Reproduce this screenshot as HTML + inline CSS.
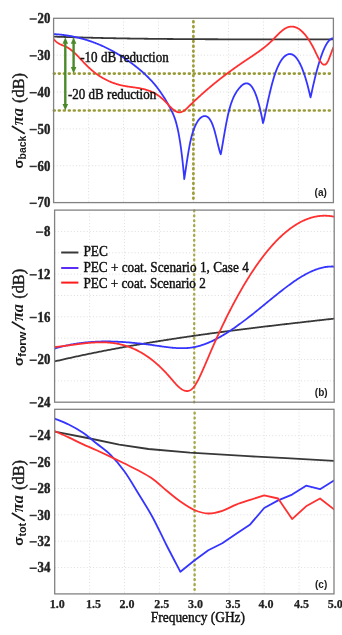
<!DOCTYPE html>
<html><head><meta charset="utf-8"><title>Figure</title>
<style>html,body{margin:0;padding:0;background:#fff;width:342px;height:635px;overflow:hidden}svg{display:block;filter:blur(0.35px)}</style>
</head><body>
<svg width="342" height="635" viewBox="0 0 342 635">
<style>
.g{stroke:#dadada;stroke-width:0.9;stroke-dasharray:1,2.2;fill:none}
.fr{stroke:#828282;stroke-width:1.3;fill:none}
.ln{fill:none;stroke-width:1.8;stroke-linejoin:round;stroke-linecap:round}
.ol{stroke:#9a9a38;stroke-width:2.6;stroke-dasharray:0.9,4.1;stroke-linecap:round;fill:none}
.olv{stroke:#9d9d3a;stroke-width:2.8;stroke-dasharray:0.7,4.2;stroke-linecap:round;fill:none}
.yt{font-family:"Liberation Serif",serif;font-weight:bold;font-size:14px;text-anchor:end;fill:#222;stroke:#222;stroke-width:0.45}
.xt{font-family:"Liberation Serif",serif;font-weight:bold;font-size:12px;text-anchor:middle;fill:#222;stroke:#222;stroke-width:0.25}
.lab{font-family:"Liberation Serif",serif;font-size:13px;fill:#111;stroke:#111;stroke-width:0.45}
.pl{font-family:"Liberation Sans",sans-serif;font-weight:bold;font-size:10px;fill:#222}
.yl{font-family:"Liberation Serif",serif;font-weight:bold;font-size:14px;fill:#1a1a1a}
</style>
<rect width="342" height="635" fill="#fff"/>
<defs><clipPath id="ca"><rect x="53.60" y="18.30" width="279.80" height="184.30"/></clipPath><clipPath id="cb"><rect x="54.60" y="210.10" width="279.60" height="192.10"/></clipPath><clipPath id="cc"><rect x="54.70" y="409.30" width="279.30" height="184.60"/></clipPath></defs>
<line x1="88.57" y1="18.30" x2="88.57" y2="202.60" class="g"/>
<line x1="123.55" y1="18.30" x2="123.55" y2="202.60" class="g"/>
<line x1="158.52" y1="18.30" x2="158.52" y2="202.60" class="g"/>
<line x1="193.50" y1="18.30" x2="193.50" y2="202.60" class="g"/>
<line x1="228.47" y1="18.30" x2="228.47" y2="202.60" class="g"/>
<line x1="263.45" y1="18.30" x2="263.45" y2="202.60" class="g"/>
<line x1="298.42" y1="18.30" x2="298.42" y2="202.60" class="g"/>
<line x1="53.60" y1="55.16" x2="333.40" y2="55.16" class="g"/>
<line x1="53.60" y1="92.02" x2="333.40" y2="92.02" class="g"/>
<line x1="53.60" y1="128.88" x2="333.40" y2="128.88" class="g"/>
<line x1="53.60" y1="165.74" x2="333.40" y2="165.74" class="g"/>
<line x1="89.55" y1="210.10" x2="89.55" y2="402.20" class="g"/>
<line x1="124.50" y1="210.10" x2="124.50" y2="402.20" class="g"/>
<line x1="159.45" y1="210.10" x2="159.45" y2="402.20" class="g"/>
<line x1="194.40" y1="210.10" x2="194.40" y2="402.20" class="g"/>
<line x1="229.35" y1="210.10" x2="229.35" y2="402.20" class="g"/>
<line x1="264.30" y1="210.10" x2="264.30" y2="402.20" class="g"/>
<line x1="299.25" y1="210.10" x2="299.25" y2="402.20" class="g"/>
<line x1="54.60" y1="231.44" x2="334.20" y2="231.44" class="g"/>
<line x1="54.60" y1="252.79" x2="334.20" y2="252.79" class="g"/>
<line x1="54.60" y1="274.13" x2="334.20" y2="274.13" class="g"/>
<line x1="54.60" y1="295.48" x2="334.20" y2="295.48" class="g"/>
<line x1="54.60" y1="316.82" x2="334.20" y2="316.82" class="g"/>
<line x1="54.60" y1="338.17" x2="334.20" y2="338.17" class="g"/>
<line x1="54.60" y1="359.51" x2="334.20" y2="359.51" class="g"/>
<line x1="54.60" y1="380.86" x2="334.20" y2="380.86" class="g"/>
<line x1="89.61" y1="409.30" x2="89.61" y2="593.90" class="g"/>
<line x1="124.53" y1="409.30" x2="124.53" y2="593.90" class="g"/>
<line x1="159.44" y1="409.30" x2="159.44" y2="593.90" class="g"/>
<line x1="194.35" y1="409.30" x2="194.35" y2="593.90" class="g"/>
<line x1="229.26" y1="409.30" x2="229.26" y2="593.90" class="g"/>
<line x1="264.18" y1="409.30" x2="264.18" y2="593.90" class="g"/>
<line x1="299.09" y1="409.30" x2="299.09" y2="593.90" class="g"/>
<line x1="54.70" y1="435.67" x2="334.00" y2="435.67" class="g"/>
<line x1="54.70" y1="462.04" x2="334.00" y2="462.04" class="g"/>
<line x1="54.70" y1="488.41" x2="334.00" y2="488.41" class="g"/>
<line x1="54.70" y1="514.79" x2="334.00" y2="514.79" class="g"/>
<line x1="54.70" y1="541.16" x2="334.00" y2="541.16" class="g"/>
<line x1="54.70" y1="567.53" x2="334.00" y2="567.53" class="g"/>
<line x1="53.60" y1="73.59" x2="333.40" y2="73.59" class="ol" style="stroke-dashoffset:4.75"/>
<line x1="53.60" y1="110.45" x2="333.40" y2="110.45" class="ol" style="stroke-dashoffset:4.75"/>
<line x1="193.40" y1="18.30" x2="193.40" y2="202.60" class="olv" style="stroke-dashoffset:1.75"/>
<line x1="194.20" y1="210.10" x2="194.20" y2="402.20" class="olv" style="stroke-dashoffset:4.45;stroke-width:2.4;stroke:#a8a848"/>
<line x1="194.60" y1="409.30" x2="194.60" y2="593.90" class="olv" style="stroke-dashoffset:1.45;stroke-width:2.5;stroke:#a8a848"/>
<path d="M53.60,36.62 L54.60,36.65 L55.60,36.69 L56.60,36.72 L57.60,36.76 L58.60,36.79 L59.60,36.82 L60.60,36.86 L61.60,36.89 L62.60,36.92 L63.60,36.96 L64.60,36.99 L65.60,37.02 L66.60,37.05 L67.60,37.08 L68.60,37.11 L69.60,37.14 L70.60,37.17 L71.60,37.20 L72.60,37.23 L73.60,37.26 L74.60,37.29 L75.60,37.32 L76.60,37.35 L77.60,37.38 L78.60,37.41 L79.60,37.44 L80.60,37.46 L81.60,37.49 L82.60,37.52 L83.60,37.54 L84.60,37.57 L85.60,37.60 L86.60,37.62 L87.60,37.65 L88.60,37.67 L89.60,37.70 L90.60,37.72 L91.60,37.75 L92.60,37.77 L93.60,37.80 L94.60,37.82 L95.60,37.85 L96.60,37.87 L97.60,37.89 L98.60,37.91 L99.60,37.94 L100.60,37.96 L101.60,37.98 L102.60,38.00 L103.60,38.03 L104.60,38.05 L105.60,38.07 L106.60,38.09 L107.60,38.11 L108.60,38.13 L109.60,38.15 L110.60,38.17 L111.60,38.19 L112.60,38.21 L113.60,38.23 L114.60,38.25 L115.60,38.27 L116.60,38.29 L117.60,38.30 L118.60,38.32 L119.60,38.34 L120.60,38.36 L121.60,38.38 L122.60,38.39 L123.60,38.41 L124.60,38.43 L125.60,38.44 L126.60,38.46 L127.60,38.48 L128.60,38.49 L129.60,38.51 L130.60,38.53 L131.60,38.54 L132.60,38.56 L133.60,38.57 L134.60,38.59 L135.60,38.60 L136.60,38.62 L137.60,38.63 L138.60,38.64 L139.60,38.66 L140.60,38.67 L141.60,38.69 L142.60,38.70 L143.60,38.71 L144.60,38.73 L145.60,38.74 L146.60,38.75 L147.60,38.76 L148.60,38.78 L149.60,38.79 L150.60,38.80 L151.60,38.81 L152.60,38.82 L153.60,38.83 L154.60,38.85 L155.60,38.86 L156.60,38.87 L157.60,38.88 L158.60,38.89 L159.60,38.90 L160.60,38.91 L161.60,38.92 L162.60,38.93 L163.60,38.94 L164.60,38.95 L165.60,38.96 L166.60,38.97 L167.60,38.98 L168.60,38.99 L169.60,38.99 L170.60,39.00 L171.60,39.01 L172.60,39.02 L173.60,39.03 L174.60,39.04 L175.60,39.05 L176.60,39.05 L177.60,39.06 L178.60,39.07 L179.60,39.08 L180.60,39.08 L181.60,39.09 L182.60,39.10 L183.60,39.10 L184.60,39.11 L185.60,39.12 L186.60,39.12 L187.60,39.13 L188.60,39.14 L189.60,39.14 L190.60,39.15 L191.60,39.16 L192.60,39.16 L193.60,39.17 L194.60,39.17 L195.60,39.18 L196.60,39.18 L197.60,39.19 L198.60,39.19 L199.60,39.20 L200.60,39.20 L201.60,39.21 L202.60,39.21 L203.60,39.22 L204.60,39.22 L205.60,39.23 L206.60,39.23 L207.60,39.24 L208.60,39.24 L209.60,39.24 L210.60,39.25 L211.60,39.25 L212.60,39.25 L213.60,39.26 L214.60,39.26 L215.60,39.27 L216.60,39.27 L217.60,39.27 L218.60,39.28 L219.60,39.28 L220.60,39.28 L221.60,39.28 L222.60,39.29 L223.60,39.29 L224.60,39.29 L225.60,39.30 L226.60,39.30 L227.60,39.30 L228.60,39.30 L229.60,39.31 L230.60,39.31 L231.60,39.31 L232.60,39.31 L233.60,39.32 L234.60,39.32 L235.60,39.32 L236.60,39.32 L237.60,39.32 L238.60,39.33 L239.60,39.33 L240.60,39.33 L241.60,39.33 L242.60,39.33 L243.60,39.33 L244.60,39.34 L245.60,39.34 L246.60,39.34 L247.60,39.34 L248.60,39.34 L249.60,39.34 L250.60,39.35 L251.60,39.35 L252.60,39.35 L253.60,39.35 L254.60,39.35 L255.60,39.35 L256.60,39.35 L257.60,39.35 L258.60,39.35 L259.60,39.36 L260.60,39.36 L261.60,39.36 L262.60,39.36 L263.60,39.36 L264.60,39.36 L265.60,39.36 L266.60,39.36 L267.60,39.36 L268.60,39.37 L269.60,39.37 L270.60,39.37 L271.60,39.37 L272.60,39.37 L273.60,39.37 L274.60,39.37 L275.60,39.37 L276.60,39.37 L277.60,39.37 L278.60,39.37 L279.60,39.38 L280.60,39.38 L281.60,39.38 L282.60,39.38 L283.60,39.38 L284.60,39.38 L285.60,39.38 L286.60,39.38 L287.60,39.38 L288.60,39.38 L289.60,39.39 L290.60,39.39 L291.60,39.39 L292.60,39.39 L293.60,39.39 L294.60,39.39 L295.60,39.39 L296.60,39.39 L297.60,39.39 L298.60,39.40 L299.60,39.40 L300.60,39.40 L301.60,39.40 L302.60,39.40 L303.60,39.40 L304.60,39.40 L305.60,39.41 L306.60,39.41 L307.60,39.41 L308.60,39.41 L309.60,39.41 L310.60,39.41 L311.60,39.42 L312.60,39.42 L313.60,39.42 L314.60,39.42 L315.60,39.42 L316.60,39.42 L317.60,39.43 L318.60,39.43 L319.60,39.43 L320.60,39.43 L321.60,39.44 L322.60,39.44 L323.60,39.44 L324.60,39.44 L325.60,39.45 L326.60,39.45 L327.60,39.45 L328.60,39.45 L329.60,39.46 L330.60,39.46 L331.60,39.46 L332.60,39.47 L333.40,39.47" class="ln" clip-path="url(#ca)" stroke="#383838"/>
<path d="M53.60,34.00 L54.10,34.11 L54.60,34.14 L55.10,34.17 L55.60,34.21 L56.10,34.24 L56.60,34.28 L57.10,34.32 L57.60,34.36 L58.10,34.40 L58.60,34.45 L59.10,34.50 L59.60,34.54 L60.10,34.59 L60.60,34.65 L61.10,34.70 L61.60,34.76 L62.10,34.81 L62.60,34.87 L63.10,34.93 L63.60,35.00 L64.10,35.06 L64.60,35.13 L65.10,35.20 L65.60,35.27 L66.10,35.34 L66.60,35.41 L67.10,35.49 L67.60,35.57 L68.10,35.65 L68.60,35.73 L69.10,35.81 L69.60,35.90 L70.10,35.99 L70.60,36.08 L71.10,36.17 L71.60,36.26 L72.10,36.36 L72.60,36.45 L73.10,36.55 L73.60,36.65 L74.10,36.76 L74.60,36.86 L75.10,36.97 L75.60,37.08 L76.10,37.19 L76.60,37.30 L77.10,37.41 L77.60,37.53 L78.10,37.65 L78.60,37.77 L79.10,37.89 L79.60,38.02 L80.10,38.15 L80.60,38.28 L81.10,38.41 L81.60,38.54 L82.10,38.67 L82.60,38.81 L83.10,38.95 L83.60,39.09 L84.10,39.24 L84.60,39.38 L85.10,39.53 L85.60,39.68 L86.10,39.83 L86.60,39.98 L87.10,40.14 L87.60,40.30 L88.10,40.46 L88.60,40.62 L89.10,40.79 L89.60,40.95 L90.10,41.12 L90.60,41.29 L91.10,41.47 L91.60,41.64 L92.10,41.82 L92.60,42.00 L93.10,42.18 L93.60,42.37 L94.10,42.55 L94.60,42.74 L95.10,42.93 L95.60,43.12 L96.10,43.32 L96.60,43.52 L97.10,43.72 L97.60,43.92 L98.10,44.12 L98.60,44.33 L99.10,44.54 L99.60,44.75 L100.10,44.96 L100.60,45.18 L101.10,45.40 L101.60,45.62 L102.10,45.84 L102.60,46.06 L103.10,46.29 L103.60,46.52 L104.10,46.75 L104.60,46.99 L105.10,47.22 L105.60,47.46 L106.10,47.70 L106.60,47.95 L107.10,48.19 L107.60,48.44 L108.10,48.69 L108.60,48.94 L109.10,49.20 L109.60,49.46 L110.10,49.72 L110.60,49.98 L111.10,50.24 L111.60,50.51 L112.10,50.78 L112.60,51.05 L113.10,51.33 L113.60,51.61 L114.10,51.89 L114.60,52.17 L115.10,52.45 L115.60,52.74 L116.10,53.03 L116.60,53.32 L117.10,53.62 L117.60,53.91 L118.10,54.21 L118.60,54.51 L119.10,54.82 L119.60,55.12 L120.10,55.43 L120.60,55.75 L121.10,56.06 L121.60,56.38 L122.10,56.70 L122.60,57.02 L123.10,57.34 L123.60,57.67 L124.10,58.00 L124.60,58.33 L125.10,58.67 L125.60,59.01 L126.10,59.35 L126.60,59.69 L127.10,60.04 L127.60,60.38 L128.10,60.73 L128.60,61.09 L129.10,61.44 L129.60,61.80 L130.10,62.16 L130.60,62.53 L131.10,62.89 L131.60,63.26 L132.10,63.63 L132.60,64.01 L133.10,64.39 L133.60,64.77 L134.10,65.15 L134.60,65.53 L135.10,65.92 L135.60,66.31 L136.10,66.71 L136.60,67.10 L137.10,67.50 L137.60,67.90 L138.10,68.31 L138.60,68.72 L139.10,69.13 L139.60,69.54 L140.10,69.96 L140.60,70.38 L141.10,70.80 L141.60,71.23 L142.10,71.66 L142.60,72.10 L143.10,72.54 L143.60,72.99 L144.10,73.44 L144.60,73.90 L145.10,74.36 L145.60,74.83 L146.10,75.30 L146.60,75.78 L147.10,76.26 L147.60,76.75 L148.10,77.25 L148.60,77.75 L149.10,78.26 L149.60,78.78 L150.10,79.30 L150.60,79.83 L151.10,80.37 L151.60,80.91 L152.10,81.46 L152.60,82.02 L153.10,82.59 L153.60,83.17 L154.10,83.75 L154.60,84.35 L155.10,84.95 L155.60,85.56 L156.10,86.18 L156.60,86.81 L157.10,87.45 L157.60,88.10 L158.10,88.76 L158.60,89.42 L159.10,90.10 L159.60,90.79 L160.10,91.49 L160.60,92.20 L161.10,92.92 L161.60,93.65 L162.10,94.39 L162.60,95.14 L163.10,95.91 L163.60,96.68 L164.10,97.47 L164.60,98.27 L165.10,99.08 L165.60,99.91 L166.10,100.75 L166.60,101.60 L167.10,102.46 L167.60,103.33 L168.10,104.22 L168.60,105.13 L169.10,106.04 L169.60,106.97 L170.10,107.91 L170.60,108.87 L171.10,109.84 L171.60,110.84 L172.10,111.86 L172.60,112.92 L173.10,114.04 L173.60,115.23 L174.10,116.50 L174.60,117.85 L175.10,119.31 L175.60,120.89 L176.10,122.59 L176.60,124.43 L177.10,126.42 L177.60,128.57 L178.10,130.89 L178.60,133.40 L179.10,136.11 L179.60,139.03 L180.10,142.18 L180.60,145.55 L181.10,149.17 L181.60,153.05 L182.10,157.20 L182.60,161.63 L183.10,166.36 L183.60,171.39 L184.10,176.73 L184.20,179.00 L184.70,176.23 L185.20,172.90 L185.70,169.56 L186.20,166.23 L186.70,162.93 L187.20,159.67 L187.70,156.49 L188.20,153.41 L188.70,150.44 L189.20,147.60 L189.70,144.93 L190.20,142.44 L190.70,140.14 L191.20,138.02 L191.70,136.07 L192.20,134.27 L192.70,132.62 L193.20,131.10 L193.70,129.69 L194.20,128.38 L194.70,127.16 L195.20,126.01 L195.70,124.94 L196.20,123.93 L196.70,122.99 L197.20,122.12 L197.70,121.31 L198.20,120.57 L198.70,119.89 L199.20,119.27 L199.70,118.71 L200.20,118.20 L200.70,117.76 L201.20,117.37 L201.70,117.03 L202.20,116.75 L202.70,116.51 L203.20,116.33 L203.70,116.20 L204.20,116.11 L204.70,116.07 L205.20,116.08 L205.70,116.15 L206.20,116.27 L206.70,116.46 L207.20,116.72 L207.70,117.04 L208.20,117.44 L208.70,117.92 L209.20,118.49 L209.70,119.14 L210.20,119.88 L210.70,120.71 L211.20,121.65 L211.70,122.69 L212.20,123.83 L212.70,125.09 L213.20,126.46 L213.70,127.95 L214.20,129.56 L214.70,131.30 L215.20,133.16 L215.70,135.12 L216.20,137.16 L216.70,139.24 L217.20,141.34 L217.70,143.44 L218.20,145.51 L218.70,147.52 L219.20,149.45 L219.70,151.26 L220.20,152.95 L220.70,154.20 L221.20,152.20 L221.70,149.35 L222.20,146.46 L222.70,143.54 L223.20,140.61 L223.70,137.69 L224.20,134.79 L224.70,131.92 L225.20,129.10 L225.70,126.35 L226.20,123.68 L226.70,121.10 L227.20,118.62 L227.70,116.28 L228.20,114.06 L228.70,111.97 L229.20,110.01 L229.70,108.16 L230.20,106.42 L230.70,104.79 L231.20,103.27 L231.70,101.84 L232.20,100.49 L232.70,99.24 L233.20,98.06 L233.70,96.96 L234.20,95.92 L234.70,94.95 L235.20,94.04 L235.70,93.18 L236.20,92.36 L236.70,91.59 L237.20,90.85 L237.70,90.15 L238.20,89.46 L238.70,88.81 L239.20,88.19 L239.70,87.59 L240.20,87.03 L240.70,86.50 L241.20,86.00 L241.70,85.54 L242.20,85.12 L242.70,84.74 L243.20,84.40 L243.70,84.11 L244.20,83.86 L244.70,83.65 L245.20,83.50 L245.70,83.39 L246.20,83.34 L246.70,83.34 L247.20,83.39 L247.70,83.50 L248.20,83.67 L248.70,83.90 L249.20,84.19 L249.70,84.55 L250.20,84.97 L250.70,85.46 L251.20,86.01 L251.70,86.64 L252.20,87.33 L252.70,88.10 L253.20,88.95 L253.70,89.87 L254.20,90.87 L254.70,91.95 L255.20,93.11 L255.70,94.35 L256.20,95.68 L256.70,97.10 L257.20,98.61 L257.70,100.20 L258.20,101.89 L258.70,103.67 L259.20,105.54 L259.70,107.51 L260.20,109.58 L260.70,111.75 L261.20,114.03 L261.70,116.40 L262.20,118.88 L262.70,121.47 L263.00,123.00 L263.50,121.54 L264.00,119.26 L264.50,116.96 L265.00,114.65 L265.50,112.32 L266.00,110.00 L266.50,107.68 L267.00,105.37 L267.50,103.07 L268.00,100.80 L268.50,98.56 L269.00,96.35 L269.50,94.18 L270.00,92.06 L270.50,89.98 L271.00,87.96 L271.50,85.99 L272.00,84.08 L272.50,82.24 L273.00,80.46 L273.50,78.75 L274.00,77.11 L274.50,75.54 L275.00,74.04 L275.50,72.60 L276.00,71.23 L276.50,69.92 L277.00,68.67 L277.50,67.48 L278.00,66.35 L278.50,65.27 L279.00,64.26 L279.50,63.30 L280.00,62.39 L280.50,61.54 L281.00,60.74 L281.50,59.99 L282.00,59.29 L282.50,58.64 L283.00,58.03 L283.50,57.47 L284.00,56.96 L284.50,56.48 L285.00,56.06 L285.50,55.67 L286.00,55.32 L286.50,55.01 L287.00,54.74 L287.50,54.52 L288.00,54.33 L288.50,54.19 L289.00,54.09 L289.50,54.03 L290.00,54.02 L290.50,54.05 L291.00,54.13 L291.50,54.25 L292.00,54.42 L292.50,54.63 L293.00,54.89 L293.50,55.20 L294.00,55.56 L294.50,55.96 L295.00,56.41 L295.50,56.92 L296.00,57.47 L296.50,58.07 L297.00,58.72 L297.50,59.43 L298.00,60.19 L298.50,60.99 L299.00,61.86 L299.50,62.77 L300.00,63.74 L300.50,64.76 L301.00,65.84 L301.50,66.98 L302.00,68.17 L302.50,69.41 L303.00,70.72 L303.50,72.08 L304.00,73.50 L304.50,74.97 L305.00,76.51 L305.50,78.10 L306.00,79.76 L306.50,81.48 L307.00,83.25 L307.50,85.09 L308.00,86.99 L308.50,88.95 L309.00,90.98 L309.50,93.07 L310.00,95.22 L310.50,97.40 L311.00,95.57 L311.50,93.19 L312.00,90.86 L312.50,88.57 L313.00,86.32 L313.50,84.12 L314.00,81.97 L314.50,79.86 L315.00,77.79 L315.50,75.77 L316.00,73.80 L316.50,71.88 L317.00,70.00 L317.50,68.17 L318.00,66.40 L318.50,64.67 L319.00,62.99 L319.50,61.36 L320.00,59.78 L320.50,58.25 L321.00,56.78 L321.50,55.36 L322.00,53.99 L322.50,52.67 L323.00,51.41 L323.50,50.20 L324.00,49.05 L324.50,47.95 L325.00,46.91 L325.50,45.92 L326.00,45.00 L326.50,44.13 L327.00,43.31 L327.50,42.56 L328.00,41.86 L328.50,41.23 L329.00,40.65 L329.50,40.14 L330.00,39.68 L330.50,39.29 L331.00,38.96 L331.50,38.69 L332.00,38.49 L332.50,38.35 L333.00,38.27 L333.40,38.00" class="ln" clip-path="url(#ca)" stroke="#3535ff"/>
<path d="M53.60,39.05 L54.10,39.64 L54.60,40.18 L55.10,40.69 L55.60,41.17 L56.10,41.61 L56.60,42.02 L57.10,42.40 L57.60,42.76 L58.10,43.09 L58.60,43.40 L59.10,43.68 L59.60,43.95 L60.10,44.21 L60.60,44.45 L61.10,44.68 L61.60,44.90 L62.10,45.11 L62.60,45.32 L63.10,45.52 L63.60,45.73 L64.10,45.93 L64.60,46.14 L65.10,46.35 L65.60,46.57 L66.10,46.80 L66.60,47.05 L67.10,47.30 L67.60,47.58 L68.10,47.87 L68.60,48.18 L69.10,48.50 L69.60,48.84 L70.10,49.20 L70.60,49.57 L71.10,49.96 L71.60,50.35 L72.10,50.77 L72.60,51.19 L73.10,51.62 L73.60,52.07 L74.10,52.53 L74.60,52.99 L75.10,53.47 L75.60,53.95 L76.10,54.44 L76.60,54.94 L77.10,55.44 L77.60,55.95 L78.10,56.46 L78.60,56.98 L79.10,57.50 L79.60,58.03 L80.10,58.56 L80.60,59.09 L81.10,59.62 L81.60,60.15 L82.10,60.69 L82.60,61.22 L83.10,61.75 L83.60,62.28 L84.10,62.80 L84.60,63.32 L85.10,63.84 L85.60,64.36 L86.10,64.87 L86.60,65.37 L87.10,65.87 L87.60,66.36 L88.10,66.84 L88.60,67.31 L89.10,67.78 L89.60,68.24 L90.10,68.70 L90.60,69.14 L91.10,69.58 L91.60,70.02 L92.10,70.44 L92.60,70.86 L93.10,71.28 L93.60,71.68 L94.10,72.08 L94.60,72.48 L95.10,72.86 L95.60,73.24 L96.10,73.62 L96.60,73.98 L97.10,74.34 L97.60,74.70 L98.10,75.05 L98.60,75.39 L99.10,75.72 L99.60,76.05 L100.10,76.38 L100.60,76.70 L101.10,77.01 L101.60,77.32 L102.10,77.62 L102.60,77.91 L103.10,78.20 L103.60,78.48 L104.10,78.76 L104.60,79.03 L105.10,79.30 L105.60,79.56 L106.10,79.82 L106.60,80.07 L107.10,80.31 L107.60,80.55 L108.10,80.79 L108.60,81.02 L109.10,81.24 L109.60,81.46 L110.10,81.68 L110.60,81.89 L111.10,82.09 L111.60,82.29 L112.10,82.49 L112.60,82.68 L113.10,82.87 L113.60,83.05 L114.10,83.22 L114.60,83.40 L115.10,83.57 L115.60,83.73 L116.10,83.89 L116.60,84.04 L117.10,84.19 L117.60,84.34 L118.10,84.48 L118.60,84.62 L119.10,84.76 L119.60,84.89 L120.10,85.01 L120.60,85.14 L121.10,85.26 L121.60,85.37 L122.10,85.48 L122.60,85.59 L123.10,85.70 L123.60,85.80 L124.10,85.89 L124.60,85.99 L125.10,86.08 L125.60,86.17 L126.10,86.25 L126.60,86.33 L127.10,86.41 L127.60,86.49 L128.10,86.57 L128.60,86.64 L129.10,86.72 L129.60,86.79 L130.10,86.86 L130.60,86.93 L131.10,87.00 L131.60,87.06 L132.10,87.13 L132.60,87.20 L133.10,87.27 L133.60,87.34 L134.10,87.41 L134.60,87.48 L135.10,87.55 L135.60,87.62 L136.10,87.69 L136.60,87.77 L137.10,87.85 L137.60,87.92 L138.10,88.00 L138.60,88.09 L139.10,88.17 L139.60,88.26 L140.10,88.36 L140.60,88.45 L141.10,88.55 L141.60,88.65 L142.10,88.76 L142.60,88.87 L143.10,88.98 L143.60,89.10 L144.10,89.22 L144.60,89.35 L145.10,89.49 L145.60,89.63 L146.10,89.77 L146.60,89.92 L147.10,90.08 L147.60,90.24 L148.10,90.41 L148.60,90.58 L149.10,90.76 L149.60,90.95 L150.10,91.15 L150.60,91.35 L151.10,91.56 L151.60,91.78 L152.10,92.01 L152.60,92.24 L153.10,92.49 L153.60,92.74 L154.10,93.00 L154.60,93.27 L155.10,93.55 L155.60,93.84 L156.10,94.14 L156.60,94.44 L157.10,94.76 L157.60,95.09 L158.10,95.43 L158.60,95.78 L159.10,96.14 L159.60,96.51 L160.10,96.89 L160.60,97.29 L161.10,97.69 L161.60,98.11 L162.10,98.54 L162.60,98.98 L163.10,99.44 L163.60,99.91 L164.10,100.39 L164.60,100.88 L165.10,101.38 L165.60,101.90 L166.10,102.41 L166.60,102.94 L167.10,103.47 L167.60,103.99 L168.10,104.52 L168.60,105.05 L169.10,105.57 L169.60,106.09 L170.10,106.59 L170.60,107.09 L171.10,107.58 L171.60,108.05 L172.10,108.51 L172.60,108.95 L173.10,109.37 L173.60,109.78 L174.10,110.16 L174.60,110.51 L175.10,110.84 L175.60,111.14 L176.10,111.41 L176.60,111.65 L177.10,111.86 L177.60,112.03 L178.10,112.16 L178.60,112.26 L179.10,112.31 L179.60,112.32 L180.10,112.29 L180.60,112.21 L181.10,112.09 L181.60,111.93 L182.10,111.73 L182.60,111.49 L183.10,111.22 L183.60,110.92 L184.10,110.59 L184.60,110.23 L185.10,109.85 L185.60,109.45 L186.10,109.03 L186.60,108.59 L187.10,108.13 L187.60,107.67 L188.10,107.19 L188.60,106.71 L189.10,106.22 L189.60,105.73 L190.10,105.24 L190.60,104.75 L191.10,104.26 L191.60,103.77 L192.10,103.29 L192.60,102.81 L193.10,102.33 L193.60,101.85 L194.10,101.37 L194.60,100.90 L195.10,100.42 L195.60,99.95 L196.10,99.48 L196.60,99.02 L197.10,98.55 L197.60,98.09 L198.10,97.62 L198.60,97.16 L199.10,96.71 L199.60,96.25 L200.10,95.79 L200.60,95.34 L201.10,94.89 L201.60,94.44 L202.10,93.99 L202.60,93.54 L203.10,93.10 L203.60,92.66 L204.10,92.22 L204.60,91.78 L205.10,91.34 L205.60,90.90 L206.10,90.47 L206.60,90.03 L207.10,89.60 L207.60,89.17 L208.10,88.75 L208.60,88.32 L209.10,87.89 L209.60,87.47 L210.10,87.05 L210.60,86.63 L211.10,86.21 L211.60,85.79 L212.10,85.38 L212.60,84.96 L213.10,84.55 L213.60,84.14 L214.10,83.73 L214.60,83.32 L215.10,82.91 L215.60,82.51 L216.10,82.10 L216.60,81.70 L217.10,81.30 L217.60,80.90 L218.10,80.50 L218.60,80.11 L219.10,79.71 L219.60,79.32 L220.10,78.92 L220.60,78.53 L221.10,78.14 L221.60,77.75 L222.10,77.37 L222.60,76.98 L223.10,76.59 L223.60,76.21 L224.10,75.83 L224.60,75.45 L225.10,75.07 L225.60,74.69 L226.10,74.31 L226.60,73.94 L227.10,73.56 L227.60,73.19 L228.10,72.82 L228.60,72.45 L229.10,72.08 L229.60,71.71 L230.10,71.34 L230.60,70.97 L231.10,70.61 L231.60,70.24 L232.10,69.88 L232.60,69.52 L233.10,69.16 L233.60,68.80 L234.10,68.44 L234.60,68.08 L235.10,67.72 L235.60,67.37 L236.10,67.01 L236.60,66.66 L237.10,66.31 L237.60,65.96 L238.10,65.61 L238.60,65.26 L239.10,64.91 L239.60,64.56 L240.10,64.22 L240.60,63.87 L241.10,63.53 L241.60,63.18 L242.10,62.84 L242.60,62.50 L243.10,62.16 L243.60,61.82 L244.10,61.48 L244.60,61.14 L245.10,60.80 L245.60,60.47 L246.10,60.13 L246.60,59.80 L247.10,59.46 L247.60,59.13 L248.10,58.80 L248.60,58.46 L249.10,58.13 L249.60,57.80 L250.10,57.47 L250.60,57.14 L251.10,56.80 L251.60,56.47 L252.10,56.14 L252.60,55.80 L253.10,55.47 L253.60,55.13 L254.10,54.79 L254.60,54.45 L255.10,54.11 L255.60,53.77 L256.10,53.43 L256.60,53.08 L257.10,52.73 L257.60,52.38 L258.10,52.03 L258.60,51.67 L259.10,51.31 L259.60,50.95 L260.10,50.59 L260.60,50.22 L261.10,49.85 L261.60,49.47 L262.10,49.09 L262.60,48.71 L263.10,48.33 L263.60,47.93 L264.10,47.54 L264.60,47.14 L265.10,46.74 L265.60,46.33 L266.10,45.91 L266.60,45.49 L267.10,45.07 L267.60,44.64 L268.10,44.21 L268.60,43.76 L269.10,43.32 L269.60,42.87 L270.10,42.41 L270.60,41.94 L271.10,41.47 L271.60,40.99 L272.10,40.51 L272.60,40.02 L273.10,39.52 L273.60,39.01 L274.10,38.50 L274.60,37.99 L275.10,37.48 L275.60,36.96 L276.10,36.45 L276.60,35.93 L277.10,35.42 L277.60,34.92 L278.10,34.41 L278.60,33.92 L279.10,33.43 L279.60,32.95 L280.10,32.47 L280.60,32.01 L281.10,31.56 L281.60,31.13 L282.10,30.71 L282.60,30.30 L283.10,29.91 L283.60,29.54 L284.10,29.18 L284.60,28.85 L285.10,28.54 L285.60,28.25 L286.10,27.98 L286.60,27.74 L287.10,27.51 L287.60,27.32 L288.10,27.14 L288.60,26.99 L289.10,26.86 L289.60,26.76 L290.10,26.67 L290.60,26.62 L291.10,26.58 L291.60,26.57 L292.10,26.58 L292.60,26.61 L293.10,26.66 L293.60,26.74 L294.10,26.84 L294.60,26.96 L295.10,27.11 L295.60,27.28 L296.10,27.47 L296.60,27.68 L297.10,27.92 L297.60,28.18 L298.10,28.46 L298.60,28.77 L299.10,29.09 L299.60,29.44 L300.10,29.81 L300.60,30.21 L301.10,30.62 L301.60,31.06 L302.10,31.52 L302.60,32.01 L303.10,32.51 L303.60,33.04 L304.10,33.59 L304.60,34.16 L305.10,34.75 L305.60,35.37 L306.10,36.01 L306.60,36.67 L307.10,37.35 L307.60,38.05 L308.10,38.78 L308.60,39.53 L309.10,40.30 L309.60,41.09 L310.10,41.90 L310.60,42.74 L311.10,43.60 L311.60,44.47 L312.10,45.38 L312.60,46.30 L313.10,47.24 L313.60,48.21 L314.10,49.19 L314.60,50.20 L315.10,51.23 L315.60,52.27 L316.10,53.32 L316.60,54.36 L317.10,55.39 L317.60,56.41 L318.10,57.40 L318.60,58.36 L319.10,59.29 L319.60,60.16 L320.10,60.98 L320.60,61.74 L321.10,62.43 L321.60,63.05 L322.10,63.58 L322.60,64.02 L323.10,64.36 L323.60,64.60 L324.10,64.72 L324.60,64.72 L325.10,64.60 L325.60,64.34 L326.10,63.93 L326.60,63.38 L327.10,62.67 L327.60,61.81 L328.10,60.82 L328.60,59.72 L329.10,58.53 L329.60,57.28 L330.10,55.97 L330.60,54.63 L331.10,53.28 L331.60,51.94 L332.10,50.62 L332.60,49.35 L333.10,48.16 L333.40,47.48" class="ln" clip-path="url(#ca)" stroke="#ff3030"/>
<line x1="65.3" y1="41.3" x2="65.3" y2="106.44999999999999" stroke="#4b8a2a" stroke-width="2.4"/><path d="M65.3,37.3 L62.5,43.8 L68.1,43.8 Z" fill="#4b8a2a"/><path d="M65.3,110.44999999999999 L62.5,103.94999999999999 L68.1,103.94999999999999 Z" fill="#4b8a2a"/>
<line x1="73.6" y1="41.3" x2="73.6" y2="69.58999999999999" stroke="#4b8a2a" stroke-width="2.4"/><path d="M73.6,37.3 L70.8,43.8 L76.39999999999999,43.8 Z" fill="#4b8a2a"/><path d="M73.6,73.58999999999999 L70.8,67.08999999999999 L76.39999999999999,67.08999999999999 Z" fill="#4b8a2a"/>
<text x="80.2" y="61.6" class="lab" style="font-size:14.8px" textLength="88.6" lengthAdjust="spacingAndGlyphs">-10 dB reduction</text>
<text x="68.0" y="98.6" class="lab" style="font-size:14.8px" textLength="88.2" lengthAdjust="spacingAndGlyphs">-20 dB reduction</text>
<path d="M54.60,361.44 L55.60,361.21 L56.60,360.97 L57.60,360.74 L58.60,360.51 L59.60,360.28 L60.60,360.05 L61.60,359.82 L62.60,359.59 L63.60,359.36 L64.60,359.14 L65.60,358.91 L66.60,358.69 L67.60,358.46 L68.60,358.24 L69.60,358.02 L70.60,357.80 L71.60,357.58 L72.60,357.36 L73.60,357.14 L74.60,356.92 L75.60,356.70 L76.60,356.49 L77.60,356.27 L78.60,356.05 L79.60,355.84 L80.60,355.63 L81.60,355.41 L82.60,355.20 L83.60,354.99 L84.60,354.78 L85.60,354.57 L86.60,354.36 L87.60,354.16 L88.60,353.95 L89.60,353.74 L90.60,353.54 L91.60,353.33 L92.60,353.13 L93.60,352.92 L94.60,352.72 L95.60,352.52 L96.60,352.32 L97.60,352.12 L98.60,351.92 L99.60,351.72 L100.60,351.52 L101.60,351.32 L102.60,351.13 L103.60,350.93 L104.60,350.74 L105.60,350.54 L106.60,350.35 L107.60,350.15 L108.60,349.96 L109.60,349.77 L110.60,349.58 L111.60,349.39 L112.60,349.20 L113.60,349.01 L114.60,348.82 L115.60,348.63 L116.60,348.45 L117.60,348.26 L118.60,348.08 L119.60,347.89 L120.60,347.71 L121.60,347.52 L122.60,347.34 L123.60,347.16 L124.60,346.98 L125.60,346.80 L126.60,346.62 L127.60,346.44 L128.60,346.26 L129.60,346.08 L130.60,345.90 L131.60,345.72 L132.60,345.55 L133.60,345.37 L134.60,345.20 L135.60,345.02 L136.60,344.85 L137.60,344.67 L138.60,344.50 L139.60,344.33 L140.60,344.16 L141.60,343.99 L142.60,343.82 L143.60,343.65 L144.60,343.48 L145.60,343.31 L146.60,343.14 L147.60,342.97 L148.60,342.81 L149.60,342.64 L150.60,342.48 L151.60,342.31 L152.60,342.15 L153.60,341.98 L154.60,341.82 L155.60,341.66 L156.60,341.49 L157.60,341.33 L158.60,341.17 L159.60,341.01 L160.60,340.85 L161.60,340.69 L162.60,340.53 L163.60,340.37 L164.60,340.22 L165.60,340.06 L166.60,339.90 L167.60,339.75 L168.60,339.59 L169.60,339.44 L170.60,339.28 L171.60,339.13 L172.60,338.97 L173.60,338.82 L174.60,338.67 L175.60,338.52 L176.60,338.36 L177.60,338.21 L178.60,338.06 L179.60,337.91 L180.60,337.76 L181.60,337.61 L182.60,337.46 L183.60,337.32 L184.60,337.17 L185.60,337.02 L186.60,336.87 L187.60,336.73 L188.60,336.58 L189.60,336.44 L190.60,336.29 L191.60,336.15 L192.60,336.00 L193.60,335.86 L194.60,335.71 L195.60,335.57 L196.60,335.43 L197.60,335.29 L198.60,335.15 L199.60,335.01 L200.60,334.86 L201.60,334.72 L202.60,334.58 L203.60,334.44 L204.60,334.31 L205.60,334.17 L206.60,334.03 L207.60,333.89 L208.60,333.75 L209.60,333.62 L210.60,333.48 L211.60,333.34 L212.60,333.21 L213.60,333.07 L214.60,332.94 L215.60,332.80 L216.60,332.67 L217.60,332.53 L218.60,332.40 L219.60,332.27 L220.60,332.14 L221.60,332.00 L222.60,331.87 L223.60,331.74 L224.60,331.61 L225.60,331.48 L226.60,331.35 L227.60,331.21 L228.60,331.08 L229.60,330.96 L230.60,330.83 L231.60,330.70 L232.60,330.57 L233.60,330.44 L234.60,330.31 L235.60,330.18 L236.60,330.06 L237.60,329.93 L238.60,329.80 L239.60,329.68 L240.60,329.55 L241.60,329.42 L242.60,329.30 L243.60,329.17 L244.60,329.05 L245.60,328.92 L246.60,328.80 L247.60,328.67 L248.60,328.55 L249.60,328.43 L250.60,328.30 L251.60,328.18 L252.60,328.06 L253.60,327.93 L254.60,327.81 L255.60,327.69 L256.60,327.57 L257.60,327.45 L258.60,327.32 L259.60,327.20 L260.60,327.08 L261.60,326.96 L262.60,326.84 L263.60,326.72 L264.60,326.60 L265.60,326.48 L266.60,326.36 L267.60,326.24 L268.60,326.12 L269.60,326.00 L270.60,325.89 L271.60,325.77 L272.60,325.65 L273.60,325.53 L274.60,325.41 L275.60,325.29 L276.60,325.18 L277.60,325.06 L278.60,324.94 L279.60,324.83 L280.60,324.71 L281.60,324.59 L282.60,324.48 L283.60,324.36 L284.60,324.24 L285.60,324.13 L286.60,324.01 L287.60,323.90 L288.60,323.78 L289.60,323.67 L290.60,323.55 L291.60,323.44 L292.60,323.32 L293.60,323.21 L294.60,323.09 L295.60,322.98 L296.60,322.86 L297.60,322.75 L298.60,322.63 L299.60,322.52 L300.60,322.41 L301.60,322.29 L302.60,322.18 L303.60,322.06 L304.60,321.95 L305.60,321.84 L306.60,321.72 L307.60,321.61 L308.60,321.50 L309.60,321.39 L310.60,321.27 L311.60,321.16 L312.60,321.05 L313.60,320.93 L314.60,320.82 L315.60,320.71 L316.60,320.60 L317.60,320.48 L318.60,320.37 L319.60,320.26 L320.60,320.15 L321.60,320.04 L322.60,319.92 L323.60,319.81 L324.60,319.70 L325.60,319.59 L326.60,319.47 L327.60,319.36 L328.60,319.25 L329.60,319.14 L330.60,319.03 L331.60,318.92 L332.60,318.80 L333.60,318.69 L334.20,318.62" class="ln" clip-path="url(#cb)" stroke="#383838"/>
<path d="M54.60,348.57 L55.60,348.27 L56.60,347.98 L57.60,347.70 L58.60,347.43 L59.60,347.16 L60.60,346.90 L61.60,346.64 L62.60,346.40 L63.60,346.16 L64.60,345.92 L65.60,345.69 L66.60,345.47 L67.60,345.26 L68.60,345.05 L69.60,344.85 L70.60,344.66 L71.60,344.47 L72.60,344.29 L73.60,344.11 L74.60,343.95 L75.60,343.78 L76.60,343.63 L77.60,343.48 L78.60,343.33 L79.60,343.19 L80.60,343.06 L81.60,342.93 L82.60,342.81 L83.60,342.70 L84.60,342.59 L85.60,342.48 L86.60,342.38 L87.60,342.29 L88.60,342.20 L89.60,342.12 L90.60,342.04 L91.60,341.97 L92.60,341.90 L93.60,341.84 L94.60,341.78 L95.60,341.73 L96.60,341.68 L97.60,341.64 L98.60,341.60 L99.60,341.57 L100.60,341.54 L101.60,341.52 L102.60,341.50 L103.60,341.49 L104.60,341.48 L105.60,341.47 L106.60,341.47 L107.60,341.48 L108.60,341.48 L109.60,341.49 L110.60,341.51 L111.60,341.53 L112.60,341.55 L113.60,341.58 L114.60,341.61 L115.60,341.65 L116.60,341.69 L117.60,341.73 L118.60,341.78 L119.60,341.83 L120.60,341.88 L121.60,341.94 L122.60,342.00 L123.60,342.06 L124.60,342.13 L125.60,342.20 L126.60,342.28 L127.60,342.35 L128.60,342.43 L129.60,342.52 L130.60,342.60 L131.60,342.69 L132.60,342.78 L133.60,342.88 L134.60,342.97 L135.60,343.07 L136.60,343.18 L137.60,343.28 L138.60,343.39 L139.60,343.50 L140.60,343.61 L141.60,343.72 L142.60,343.84 L143.60,343.96 L144.60,344.08 L145.60,344.20 L146.60,344.33 L147.60,344.46 L148.60,344.59 L149.60,344.72 L150.60,344.85 L151.60,344.98 L152.60,345.12 L153.60,345.26 L154.60,345.40 L155.60,345.54 L156.60,345.68 L157.60,345.82 L158.60,345.96 L159.60,346.11 L160.60,346.25 L161.60,346.39 L162.60,346.53 L163.60,346.67 L164.60,346.81 L165.60,346.94 L166.60,347.07 L167.60,347.19 L168.60,347.31 L169.60,347.42 L170.60,347.53 L171.60,347.64 L172.60,347.73 L173.60,347.82 L174.60,347.90 L175.60,347.97 L176.60,348.03 L177.60,348.09 L178.60,348.13 L179.60,348.16 L180.60,348.18 L181.60,348.19 L182.60,348.19 L183.60,348.17 L184.60,348.15 L185.60,348.11 L186.60,348.05 L187.60,347.98 L188.60,347.89 L189.60,347.79 L190.60,347.67 L191.60,347.54 L192.60,347.39 L193.60,347.22 L194.60,347.03 L195.60,346.82 L196.60,346.60 L197.60,346.36 L198.60,346.10 L199.60,345.82 L200.60,345.53 L201.60,345.22 L202.60,344.90 L203.60,344.56 L204.60,344.21 L205.60,343.83 L206.60,343.45 L207.60,343.05 L208.60,342.63 L209.60,342.20 L210.60,341.76 L211.60,341.31 L212.60,340.84 L213.60,340.35 L214.60,339.86 L215.60,339.35 L216.60,338.83 L217.60,338.30 L218.60,337.75 L219.60,337.20 L220.60,336.63 L221.60,336.05 L222.60,335.46 L223.60,334.86 L224.60,334.26 L225.60,333.64 L226.60,333.01 L227.60,332.37 L228.60,331.73 L229.60,331.07 L230.60,330.41 L231.60,329.73 L232.60,329.06 L233.60,328.37 L234.60,327.67 L235.60,326.97 L236.60,326.26 L237.60,325.55 L238.60,324.83 L239.60,324.10 L240.60,323.37 L241.60,322.63 L242.60,321.88 L243.60,321.14 L244.60,320.38 L245.60,319.62 L246.60,318.86 L247.60,318.09 L248.60,317.31 L249.60,316.53 L250.60,315.75 L251.60,314.96 L252.60,314.17 L253.60,313.38 L254.60,312.58 L255.60,311.77 L256.60,310.97 L257.60,310.16 L258.60,309.35 L259.60,308.54 L260.60,307.72 L261.60,306.90 L262.60,306.09 L263.60,305.27 L264.60,304.45 L265.60,303.63 L266.60,302.81 L267.60,301.99 L268.60,301.17 L269.60,300.35 L270.60,299.54 L271.60,298.72 L272.60,297.91 L273.60,297.10 L274.60,296.29 L275.60,295.48 L276.60,294.68 L277.60,293.88 L278.60,293.08 L279.60,292.29 L280.60,291.50 L281.60,290.72 L282.60,289.94 L283.60,289.16 L284.60,288.39 L285.60,287.63 L286.60,286.88 L287.60,286.13 L288.60,285.38 L289.60,284.65 L290.60,283.92 L291.60,283.21 L292.60,282.50 L293.60,281.80 L294.60,281.11 L295.60,280.43 L296.60,279.77 L297.60,279.11 L298.60,278.46 L299.60,277.83 L300.60,277.21 L301.60,276.60 L302.60,276.01 L303.60,275.43 L304.60,274.86 L305.60,274.31 L306.60,273.78 L307.60,273.25 L308.60,272.75 L309.60,272.26 L310.60,271.79 L311.60,271.33 L312.60,270.90 L313.60,270.48 L314.60,270.08 L315.60,269.69 L316.60,269.33 L317.60,268.99 L318.60,268.67 L319.60,268.36 L320.60,268.08 L321.60,267.82 L322.60,267.59 L323.60,267.37 L324.60,267.18 L325.60,267.01 L326.60,266.86 L327.60,266.74 L328.60,266.65 L329.60,266.57 L330.60,266.53 L331.60,266.50 L332.60,266.51 L333.60,266.54 L334.20,266.57" class="ln" clip-path="url(#cb)" stroke="#3535ff"/>
<path d="M54.60,347.03 L55.10,346.99 L55.60,346.94 L56.10,346.89 L56.60,346.84 L57.10,346.79 L57.60,346.74 L58.10,346.69 L58.60,346.63 L59.10,346.58 L59.60,346.52 L60.10,346.47 L60.60,346.41 L61.10,346.35 L61.60,346.29 L62.10,346.23 L62.60,346.17 L63.10,346.11 L63.60,346.04 L64.10,345.98 L64.60,345.92 L65.10,345.85 L65.60,345.79 L66.10,345.72 L66.60,345.66 L67.10,345.59 L67.60,345.53 L68.10,345.46 L68.60,345.39 L69.10,345.32 L69.60,345.26 L70.10,345.19 L70.60,345.12 L71.10,345.05 L71.60,344.98 L72.10,344.92 L72.60,344.85 L73.10,344.78 L73.60,344.71 L74.10,344.65 L74.60,344.58 L75.10,344.51 L75.60,344.44 L76.10,344.38 L76.60,344.31 L77.10,344.24 L77.60,344.18 L78.10,344.11 L78.60,344.05 L79.10,343.99 L79.60,343.92 L80.10,343.86 L80.60,343.80 L81.10,343.74 L81.60,343.67 L82.10,343.61 L82.60,343.56 L83.10,343.50 L83.60,343.44 L84.10,343.38 L84.60,343.33 L85.10,343.27 L85.60,343.22 L86.10,343.17 L86.60,343.12 L87.10,343.07 L87.60,343.02 L88.10,342.97 L88.60,342.92 L89.10,342.88 L89.60,342.83 L90.10,342.79 L90.60,342.75 L91.10,342.71 L91.60,342.67 L92.10,342.64 L92.60,342.60 L93.10,342.57 L93.60,342.54 L94.10,342.51 L94.60,342.48 L95.10,342.45 L95.60,342.43 L96.10,342.41 L96.60,342.38 L97.10,342.37 L97.60,342.35 L98.10,342.33 L98.60,342.32 L99.10,342.31 L99.60,342.30 L100.10,342.30 L100.60,342.29 L101.10,342.29 L101.60,342.29 L102.10,342.29 L102.60,342.30 L103.10,342.31 L103.60,342.32 L104.10,342.33 L104.60,342.34 L105.10,342.36 L105.60,342.38 L106.10,342.41 L106.60,342.43 L107.10,342.46 L107.60,342.49 L108.10,342.52 L108.60,342.56 L109.10,342.60 L109.60,342.64 L110.10,342.69 L110.60,342.74 L111.10,342.79 L111.60,342.84 L112.10,342.90 L112.60,342.96 L113.10,343.03 L113.60,343.09 L114.10,343.16 L114.60,343.24 L115.10,343.32 L115.60,343.40 L116.10,343.48 L116.60,343.57 L117.10,343.66 L117.60,343.75 L118.10,343.85 L118.60,343.95 L119.10,344.06 L119.60,344.17 L120.10,344.28 L120.60,344.40 L121.10,344.52 L121.60,344.64 L122.10,344.77 L122.60,344.90 L123.10,345.03 L123.60,345.17 L124.10,345.31 L124.60,345.46 L125.10,345.61 L125.60,345.76 L126.10,345.92 L126.60,346.08 L127.10,346.25 L127.60,346.42 L128.10,346.59 L128.60,346.77 L129.10,346.95 L129.60,347.13 L130.10,347.32 L130.60,347.52 L131.10,347.71 L131.60,347.91 L132.10,348.12 L132.60,348.33 L133.10,348.54 L133.60,348.76 L134.10,348.99 L134.60,349.21 L135.10,349.44 L135.60,349.68 L136.10,349.92 L136.60,350.16 L137.10,350.41 L137.60,350.66 L138.10,350.92 L138.60,351.18 L139.10,351.45 L139.60,351.72 L140.10,351.99 L140.60,352.27 L141.10,352.55 L141.60,352.84 L142.10,353.13 L142.60,353.43 L143.10,353.73 L143.60,354.04 L144.10,354.35 L144.60,354.67 L145.10,354.99 L145.60,355.31 L146.10,355.64 L146.60,355.98 L147.10,356.32 L147.60,356.66 L148.10,357.01 L148.60,357.36 L149.10,357.72 L149.60,358.09 L150.10,358.46 L150.60,358.83 L151.10,359.21 L151.60,359.59 L152.10,359.98 L152.60,360.37 L153.10,360.77 L153.60,361.17 L154.10,361.58 L154.60,362.00 L155.10,362.41 L155.60,362.84 L156.10,363.27 L156.60,363.70 L157.10,364.14 L157.60,364.58 L158.10,365.03 L158.60,365.49 L159.10,365.95 L159.60,366.41 L160.10,366.88 L160.60,367.36 L161.10,367.84 L161.60,368.33 L162.10,368.82 L162.60,369.32 L163.10,369.82 L163.60,370.33 L164.10,370.84 L164.60,371.36 L165.10,371.89 L165.60,372.42 L166.10,372.96 L166.60,373.50 L167.10,374.04 L167.60,374.60 L168.10,375.16 L168.60,375.72 L169.10,376.29 L169.60,376.87 L170.10,377.44 L170.60,378.03 L171.10,378.61 L171.60,379.19 L172.10,379.78 L172.60,380.36 L173.10,380.94 L173.60,381.51 L174.10,382.08 L174.60,382.64 L175.10,383.20 L175.60,383.74 L176.10,384.28 L176.60,384.80 L177.10,385.31 L177.60,385.81 L178.10,386.29 L178.60,386.75 L179.10,387.20 L179.60,387.63 L180.10,388.04 L180.60,388.43 L181.10,388.79 L181.60,389.14 L182.10,389.46 L182.60,389.75 L183.10,390.01 L183.60,390.25 L184.10,390.46 L184.60,390.64 L185.10,390.78 L185.60,390.90 L186.10,390.98 L186.60,391.02 L187.10,391.03 L187.60,391.00 L188.10,390.93 L188.60,390.82 L189.10,390.67 L189.60,390.47 L190.10,390.24 L190.60,389.96 L191.10,389.63 L191.60,389.25 L192.10,388.83 L192.60,388.36 L193.10,387.83 L193.60,387.26 L194.10,386.63 L194.60,385.95 L195.10,385.23 L195.60,384.46 L196.10,383.65 L196.60,382.81 L197.10,381.92 L197.60,381.00 L198.10,380.05 L198.60,379.07 L199.10,378.06 L199.60,377.03 L200.10,375.98 L200.60,374.91 L201.10,373.82 L201.60,372.72 L202.10,371.60 L202.60,370.48 L203.10,369.35 L203.60,368.21 L204.10,367.06 L204.60,365.91 L205.10,364.75 L205.60,363.59 L206.10,362.43 L206.60,361.26 L207.10,360.09 L207.60,358.92 L208.10,357.75 L208.60,356.58 L209.10,355.41 L209.60,354.24 L210.10,353.08 L210.60,351.92 L211.10,350.76 L211.60,349.61 L212.10,348.46 L212.60,347.32 L213.10,346.18 L213.60,345.04 L214.10,343.92 L214.60,342.79 L215.10,341.67 L215.60,340.56 L216.10,339.44 L216.60,338.34 L217.10,337.24 L217.60,336.14 L218.10,335.05 L218.60,333.96 L219.10,332.88 L219.60,331.80 L220.10,330.73 L220.60,329.66 L221.10,328.59 L221.60,327.54 L222.10,326.48 L222.60,325.43 L223.10,324.39 L223.60,323.35 L224.10,322.31 L224.60,321.28 L225.10,320.25 L225.60,319.23 L226.10,318.22 L226.60,317.20 L227.10,316.20 L227.60,315.19 L228.10,314.20 L228.60,313.20 L229.10,312.22 L229.60,311.23 L230.10,310.25 L230.60,309.28 L231.10,308.31 L231.60,307.35 L232.10,306.39 L232.60,305.43 L233.10,304.48 L233.60,303.54 L234.10,302.60 L234.60,301.66 L235.10,300.73 L235.60,299.81 L236.10,298.89 L236.60,297.97 L237.10,297.06 L237.60,296.15 L238.10,295.25 L238.60,294.36 L239.10,293.46 L239.60,292.58 L240.10,291.70 L240.60,290.82 L241.10,289.95 L241.60,289.08 L242.10,288.22 L242.60,287.36 L243.10,286.50 L243.60,285.66 L244.10,284.81 L244.60,283.98 L245.10,283.14 L245.60,282.31 L246.10,281.49 L246.60,280.67 L247.10,279.86 L247.60,279.05 L248.10,278.25 L248.60,277.45 L249.10,276.65 L249.60,275.86 L250.10,275.08 L250.60,274.30 L251.10,273.53 L251.60,272.76 L252.10,271.99 L252.60,271.23 L253.10,270.48 L253.60,269.73 L254.10,268.99 L254.60,268.25 L255.10,267.51 L255.60,266.78 L256.10,266.06 L256.60,265.34 L257.10,264.62 L257.60,263.91 L258.10,263.21 L258.60,262.51 L259.10,261.82 L259.60,261.13 L260.10,260.44 L260.60,259.76 L261.10,259.09 L261.60,258.42 L262.10,257.76 L262.60,257.10 L263.10,256.44 L263.60,255.79 L264.10,255.15 L264.60,254.51 L265.10,253.88 L265.60,253.25 L266.10,252.62 L266.60,252.00 L267.10,251.39 L267.60,250.78 L268.10,250.18 L268.60,249.58 L269.10,248.99 L269.60,248.40 L270.10,247.81 L270.60,247.24 L271.10,246.66 L271.60,246.10 L272.10,245.53 L272.60,244.97 L273.10,244.42 L273.60,243.88 L274.10,243.33 L274.60,242.80 L275.10,242.26 L275.60,241.74 L276.10,241.22 L276.60,240.70 L277.10,240.19 L277.60,239.68 L278.10,239.18 L278.60,238.68 L279.10,238.19 L279.60,237.71 L280.10,237.23 L280.60,236.75 L281.10,236.28 L281.60,235.82 L282.10,235.36 L282.60,234.90 L283.10,234.45 L283.60,234.01 L284.10,233.57 L284.60,233.14 L285.10,232.71 L285.60,232.29 L286.10,231.87 L286.60,231.46 L287.10,231.05 L287.60,230.65 L288.10,230.25 L288.60,229.86 L289.10,229.47 L289.60,229.09 L290.10,228.72 L290.60,228.34 L291.10,227.98 L291.60,227.62 L292.10,227.26 L292.60,226.91 L293.10,226.57 L293.60,226.23 L294.10,225.90 L294.60,225.57 L295.10,225.25 L295.60,224.93 L296.10,224.62 L296.60,224.31 L297.10,224.01 L297.60,223.71 L298.10,223.42 L298.60,223.13 L299.10,222.85 L299.60,222.58 L300.10,222.31 L300.60,222.04 L301.10,221.79 L301.60,221.53 L302.10,221.28 L302.60,221.04 L303.10,220.80 L303.60,220.57 L304.10,220.34 L304.60,220.12 L305.10,219.91 L305.60,219.69 L306.10,219.49 L306.60,219.29 L307.10,219.09 L307.60,218.91 L308.10,218.72 L308.60,218.54 L309.10,218.37 L309.60,218.20 L310.10,218.04 L310.60,217.88 L311.10,217.73 L311.60,217.59 L312.10,217.45 L312.60,217.31 L313.10,217.18 L313.60,217.06 L314.10,216.94 L314.60,216.83 L315.10,216.72 L315.60,216.62 L316.10,216.52 L316.60,216.43 L317.10,216.34 L317.60,216.26 L318.10,216.19 L318.60,216.12 L319.10,216.06 L319.60,216.00 L320.10,215.94 L320.60,215.90 L321.10,215.85 L321.60,215.82 L322.10,215.79 L322.60,215.76 L323.10,215.74 L323.60,215.73 L324.10,215.72 L324.60,215.72 L325.10,215.72 L325.60,215.73 L326.10,215.74 L326.60,215.76 L327.10,215.78 L327.60,215.82 L328.10,215.85 L328.60,215.89 L329.10,215.94 L329.60,215.99 L330.10,216.05 L330.60,216.11 L331.10,216.18 L331.60,216.26 L332.10,216.34 L332.60,216.42 L333.10,216.52 L333.60,216.61 L334.10,216.72 L334.20,216.74" class="ln" clip-path="url(#cb)" stroke="#ff3030"/>
<path d="M54.70,431.60 L90.00,438.50 L119.20,444.60 L148.50,449.00 L190.00,452.60 L248.00,456.20 L286.00,458.20 L334.00,460.90" class="ln" clip-path="url(#cc)" stroke="#383838"/>
<path d="M54.70,418.60 C57.03,419.58 64.01,422.18 68.67,424.50 C73.32,426.82 77.97,429.33 82.63,432.50 C87.28,435.67 91.94,439.77 96.59,443.50 C101.25,447.23 105.91,450.23 110.56,454.90 C115.22,459.57 119.87,465.03 124.53,471.50 C129.18,477.97 133.84,486.12 138.49,493.70 C143.15,501.28 147.80,508.45 152.45,517.00 C157.11,525.55 161.77,535.87 166.42,545.00 C171.08,554.13 178.06,567.33 180.38,571.80 L194.35,560.50 L208.31,550.20 L222.28,543.20 L236.25,533.80 L250.21,524.40 L264.18,508.00 L278.14,500.40 L292.11,494.60 L306.07,485.70 L320.03,489.20 L334.00,480.50" class="ln" clip-path="url(#cc)" stroke="#3535ff"/>
<path d="M54.70,431.10 C57.03,432.15 64.01,435.23 68.67,437.40 C73.32,439.57 77.97,441.95 82.63,444.10 C87.28,446.25 91.94,448.18 96.59,450.30 C101.25,452.42 105.91,454.60 110.56,456.80 C115.22,459.00 119.87,461.22 124.53,463.50 C129.18,465.78 133.84,467.97 138.49,470.50 C143.15,473.03 147.80,475.37 152.45,478.70 C157.11,482.03 161.77,486.68 166.42,490.50 C171.08,494.32 175.73,498.35 180.38,501.60 C185.04,504.85 189.70,508.02 194.35,510.00 C199.01,511.98 203.66,513.35 208.31,513.50 C212.97,513.65 217.62,512.38 222.28,510.90 C226.93,509.42 231.59,506.43 236.25,504.60 C240.90,502.77 247.88,500.68 250.21,499.90 L264.18,495.30 L278.14,498.50 L292.11,519.10 L306.07,506.30 L320.03,498.50 L334.00,509.30" class="ln" clip-path="url(#cc)" stroke="#ff3030"/>
<line x1="61.2" y1="252.5" x2="78.4" y2="252.5" stroke="#383838" stroke-width="2"/>
<text x="83.4" y="256.4" class="lab" style="font-size:15px" textLength="24.4" lengthAdjust="spacingAndGlyphs">PEC</text>
<line x1="61.2" y1="268.0" x2="78.4" y2="268.0" stroke="#5a2cf5" stroke-width="2"/>
<text x="83.4" y="272.2" class="lab" style="font-size:15px" textLength="165.4" lengthAdjust="spacingAndGlyphs">PEC + coat. Scenario 1, Case 4</text>
<line x1="61.2" y1="282.6" x2="78.4" y2="282.6" stroke="#ff1a1a" stroke-width="2"/>
<text x="83.4" y="288.3" class="lab" style="font-size:15px" textLength="122.4" lengthAdjust="spacingAndGlyphs">PEC + coat. Scenario 2</text>
<rect x="53.60" y="18.30" width="279.80" height="184.30" class="fr"/>
<rect x="54.60" y="210.10" width="279.60" height="192.10" class="fr"/>
<rect x="54.70" y="409.30" width="279.30" height="184.60" class="fr"/>
<text x="50.4" y="23.10" class="yt" textLength="12.8" lengthAdjust="spacingAndGlyphs">20</text>
<rect x="29.60" y="18.25" width="7.2" height="1.5" fill="#333"/>
<text x="50.4" y="59.96" class="yt" textLength="12.8" lengthAdjust="spacingAndGlyphs">30</text>
<rect x="29.60" y="55.11" width="7.2" height="1.5" fill="#333"/>
<text x="50.4" y="96.82" class="yt" textLength="12.8" lengthAdjust="spacingAndGlyphs">40</text>
<rect x="29.60" y="91.97" width="7.2" height="1.5" fill="#333"/>
<text x="50.4" y="133.68" class="yt" textLength="12.8" lengthAdjust="spacingAndGlyphs">50</text>
<rect x="29.60" y="128.83" width="7.2" height="1.5" fill="#333"/>
<text x="50.4" y="170.54" class="yt" textLength="12.8" lengthAdjust="spacingAndGlyphs">60</text>
<rect x="29.60" y="165.69" width="7.2" height="1.5" fill="#333"/>
<text x="50.4" y="207.40" class="yt" textLength="12.8" lengthAdjust="spacingAndGlyphs">70</text>
<rect x="29.60" y="202.55" width="7.2" height="1.5" fill="#333"/>
<text x="50.4" y="236.24" class="yt" textLength="6.4" lengthAdjust="spacingAndGlyphs">8</text>
<rect x="36.00" y="231.39" width="7.2" height="1.5" fill="#333"/>
<text x="50.4" y="278.93" class="yt" textLength="12.8" lengthAdjust="spacingAndGlyphs">12</text>
<rect x="29.60" y="274.08" width="7.2" height="1.5" fill="#333"/>
<text x="50.4" y="321.62" class="yt" textLength="12.8" lengthAdjust="spacingAndGlyphs">16</text>
<rect x="29.60" y="316.77" width="7.2" height="1.5" fill="#333"/>
<text x="50.4" y="364.31" class="yt" textLength="12.8" lengthAdjust="spacingAndGlyphs">20</text>
<rect x="29.60" y="359.46" width="7.2" height="1.5" fill="#333"/>
<text x="50.4" y="407.00" class="yt" textLength="12.8" lengthAdjust="spacingAndGlyphs">24</text>
<rect x="29.60" y="402.15" width="7.2" height="1.5" fill="#333"/>
<text x="50.4" y="440.47" class="yt" textLength="12.8" lengthAdjust="spacingAndGlyphs">24</text>
<rect x="29.60" y="435.62" width="7.2" height="1.5" fill="#333"/>
<text x="50.4" y="466.84" class="yt" textLength="12.8" lengthAdjust="spacingAndGlyphs">26</text>
<rect x="29.60" y="461.99" width="7.2" height="1.5" fill="#333"/>
<text x="50.4" y="493.21" class="yt" textLength="12.8" lengthAdjust="spacingAndGlyphs">28</text>
<rect x="29.60" y="488.36" width="7.2" height="1.5" fill="#333"/>
<text x="50.4" y="519.59" class="yt" textLength="12.8" lengthAdjust="spacingAndGlyphs">30</text>
<rect x="29.60" y="514.74" width="7.2" height="1.5" fill="#333"/>
<text x="50.4" y="545.96" class="yt" textLength="12.8" lengthAdjust="spacingAndGlyphs">32</text>
<rect x="29.60" y="541.11" width="7.2" height="1.5" fill="#333"/>
<text x="50.4" y="572.33" class="yt" textLength="12.8" lengthAdjust="spacingAndGlyphs">34</text>
<rect x="29.60" y="567.48" width="7.2" height="1.5" fill="#333"/>
<text x="57.30" y="608.2" class="xt">1.0</text>
<text x="93.40" y="608.2" class="xt">1.5</text>
<text x="127.10" y="608.2" class="xt">2.0</text>
<text x="161.70" y="608.2" class="xt">2.5</text>
<text x="195.50" y="608.2" class="xt">3.0</text>
<text x="233.00" y="608.2" class="xt">3.5</text>
<text x="266.10" y="608.2" class="xt">4.0</text>
<text x="301.40" y="608.2" class="xt">4.5</text>
<text x="335.20" y="608.2" class="xt">5.0</text>
<text x="150.8" y="621.8" class="lab" style="font-size:15px" textLength="94.2" lengthAdjust="spacingAndGlyphs">Frequency (GHz)</text>
<text x="314.6" y="195.5" class="pl">(a)</text>
<text x="314.8" y="396.2" class="pl">(b)</text>
<text x="315.0" y="588.3" class="pl">(c)</text>
<g transform="translate(23.40,0) rotate(-90)" fill="#1a1a1a">
<text x="-168.50" y="0" style="font-family:Liberation Sans,sans-serif;font-weight:bold;font-size:13.5px">σ</text>
<text x="-159.40" y="2.6" textLength="23.60" lengthAdjust="spacingAndGlyphs" style="font-family:Liberation Sans,sans-serif;font-weight:bold;font-size:10.3px">back</text>
</g>
<line x1="24.80" y1="133.70" x2="11.80" y2="125.90" stroke="#1a1a1a" stroke-width="1.7" stroke-linecap="butt"/>
<g transform="translate(23.40,0) rotate(-90)" fill="#1a1a1a">
<text x="-125.20" y="0" textLength="17" lengthAdjust="spacingAndGlyphs" style="font-family:Liberation Serif,serif;font-weight:bold;font-style:italic;font-size:16px">πa</text>
<text x="-103.00" y="0.6" textLength="30" lengthAdjust="spacingAndGlyphs" style="font-family:Liberation Serif,serif;font-weight:normal;font-size:16px;stroke:#1a1a1a;stroke-width:0.45">(dB)</text>
</g>
<g transform="translate(23.40,0) rotate(-90)" fill="#1a1a1a">
<text x="-366.10" y="0" style="font-family:Liberation Sans,sans-serif;font-weight:bold;font-size:13.5px">σ</text>
<text x="-357.00" y="2.6" textLength="25.40" lengthAdjust="spacingAndGlyphs" style="font-family:Liberation Sans,sans-serif;font-weight:bold;font-size:10.3px">forw</text>
</g>
<line x1="24.80" y1="329.50" x2="11.80" y2="321.70" stroke="#1a1a1a" stroke-width="1.7" stroke-linecap="butt"/>
<g transform="translate(23.40,0) rotate(-90)" fill="#1a1a1a">
<text x="-321.00" y="0" textLength="17" lengthAdjust="spacingAndGlyphs" style="font-family:Liberation Serif,serif;font-weight:bold;font-style:italic;font-size:16px">πa</text>
<text x="-298.80" y="0.6" textLength="30" lengthAdjust="spacingAndGlyphs" style="font-family:Liberation Serif,serif;font-weight:normal;font-size:16px;stroke:#1a1a1a;stroke-width:0.45">(dB)</text>
</g>
<g transform="translate(23.40,0) rotate(-90)" fill="#1a1a1a">
<text x="-545.70" y="0" style="font-family:Liberation Sans,sans-serif;font-weight:bold;font-size:13.5px">σ</text>
<text x="-536.60" y="2.6" textLength="13.80" lengthAdjust="spacingAndGlyphs" style="font-family:Liberation Sans,sans-serif;font-weight:bold;font-size:10.3px">tot</text>
</g>
<line x1="24.80" y1="520.70" x2="11.80" y2="512.90" stroke="#1a1a1a" stroke-width="1.7" stroke-linecap="butt"/>
<g transform="translate(23.40,0) rotate(-90)" fill="#1a1a1a">
<text x="-512.20" y="0" textLength="17" lengthAdjust="spacingAndGlyphs" style="font-family:Liberation Serif,serif;font-weight:bold;font-style:italic;font-size:16px">πa</text>
<text x="-490.00" y="0.6" textLength="30" lengthAdjust="spacingAndGlyphs" style="font-family:Liberation Serif,serif;font-weight:normal;font-size:16px;stroke:#1a1a1a;stroke-width:0.45">(dB)</text>
</g>
</svg>
</body></html>
